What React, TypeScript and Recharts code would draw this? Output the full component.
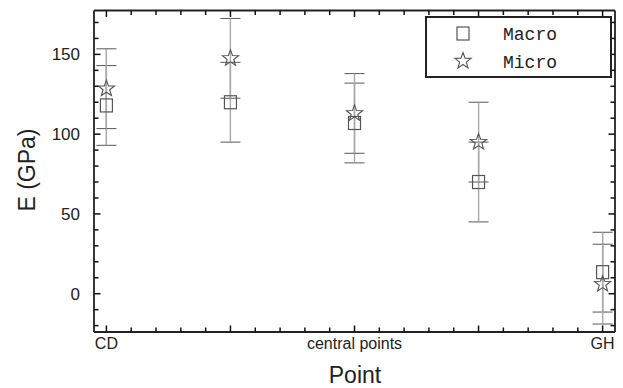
import React from 'react';
import { ScatterChart, Scatter, XAxis, YAxis, ErrorBar, Legend } from 'recharts';

const points = [1, 2, 3, 4, 5];
const xTickLabels: Record<number, string> = { 1: 'CD', 3: 'central points', 5: 'GH' };
const macroE = [118, 120, 107, 70, 13.5];
const microE = [128.5, 147.5, 113, 95, 6];
const macroErr = [25, 25, 25, 25, 25];
const microErr = [25, 25, 25, 25, 25];
const yTickLabels = [0, 50, 100, 150];

const xTicks: number[] = [];
for (let i = 0; i <= 20; i++) xTicks.push(Math.round((1 + i * 0.2) * 10) / 10);
const yTicks: number[] = [];
for (let v = -20; v <= 170; v += 10) yTicks.push(v);

const macroData = points.map((p, i) => ({ x: p, y: macroE[i], err: macroErr[i] }));
const microData = points.map((p, i) => ({ x: p, y: microE[i], err: microErr[i] }));

const INK = '#222';
const TICK = '#111';
const MARK = '#555';
const FONT = '"Liberation Sans", Arial, sans-serif';
const MONO = '"Liberation Mono", "Courier New", monospace';

const starPath = (cx: number, cy: number, R: number, r: number) => {
  let d = '';
  for (let i = 0; i < 10; i++) {
    const rad = i % 2 === 0 ? R : r;
    const a = -Math.PI / 2 + (i * Math.PI) / 5;
    d += (i === 0 ? 'M' : 'L') + (cx + rad * Math.cos(a)).toFixed(2) + ',' + (cy + rad * Math.sin(a)).toFixed(2);
  }
  return d + 'Z';
};

const SquareShape = (props: any) => {
  const { cx, cy } = props;
  return <rect x={cx - 6} y={cy - 6.5} width={12} height={13} fill="none" stroke={MARK} strokeWidth={1.2} />;
};
const StarShape = (props: any) => {
  const { cx, cy } = props;
  return <path d={starPath(cx, cy, 8.5, 3.5)} fill="none" stroke={MARK} strokeWidth={1.1} />;
};

const isMajorX = (v: number) => Math.abs(v - Math.round(v)) < 1e-6;
const isMajorY = (v: number) => v % 50 === 0;
const MINOR = 4.5;
const MAJOR = 6.5;

const BottomTick = (props: any) => {
  const { x, y, payload } = props;
  const v = payload.value;
  const major = isMajorX(v);
  const label = major ? xTickLabels[Math.round(v)] : undefined;
  return (
    <g>
      <line x1={x} y1={y} x2={x} y2={y - (major ? MAJOR : MINOR)} stroke={TICK} strokeWidth={1.5} />
      {label ? (
        <text x={x} y={y + 17} textAnchor="middle" fontSize={16} fill={INK} fontFamily={FONT}>{label}</text>
      ) : null}
    </g>
  );
};
const TopTick = (props: any) => {
  const { x, y, payload } = props;
  const major = isMajorX(payload.value);
  return <line x1={x} y1={y} x2={x} y2={y + (major ? MAJOR : MINOR)} stroke={TICK} strokeWidth={1.5} />;
};
const LeftTick = (props: any) => {
  const { x, y, payload } = props;
  const v = payload.value;
  const major = isMajorY(v);
  const showLabel = yTickLabels.indexOf(v) >= 0;
  return (
    <g>
      <line x1={x} y1={y} x2={x + (major ? MAJOR : MINOR)} y2={y} stroke={TICK} strokeWidth={1.5} />
      {showLabel ? (
        <text x={x - 14} y={y} dy="0.36em" textAnchor="end" fontSize={17} fill={INK} fontFamily={FONT}>{v}</text>
      ) : null}
    </g>
  );
};
const RightTick = (props: any) => {
  const { x, y, payload } = props;
  const major = isMajorY(payload.value);
  return <line x1={x} y1={y} x2={x - (major ? MAJOR : MINOR)} y2={y} stroke={TICK} strokeWidth={1.5} />;
};

const LegendBox = () => (
  <svg width={187} height={62} style={{ display: 'block' }}>
    <rect x={1} y={1} width={185} height={60} fill="#fff" stroke={INK} strokeWidth={2} />
    <rect x={32} y={11} width={12} height={13} fill="none" stroke={MARK} strokeWidth={1.2} />
    <path d={starPath(38, 45, 8.5, 3.5)} fill="none" stroke={MARK} strokeWidth={1.1} />
    <text x={78} y={18} dy="0.36em" fontSize={18} fontFamily={MONO} fill={INK}>Macro</text>
    <text x={78} y={46} dy="0.36em" fontSize={18} fontFamily={MONO} fill={INK}>Micro</text>
  </svg>
);

export default function App() {
  const xDomain: [number, number] = [0.9, 5.1];
  const yDomain: [number, number] = [-24, 177.5];
  return (
    <div style={{ position: 'absolute', left: 0, top: 0, width: 623, height: 388, background: '#fff', fontFamily: FONT, overflow: 'hidden' }}>
      <ScatterChart width={623} height={388} margin={{ top: 0, right: 0, bottom: 0, left: 0 }}>
        <XAxis xAxisId="bottom" type="number" dataKey="x" orientation="bottom" height={56} domain={xDomain} allowDataOverflow
          ticks={xTicks} interval={0} tickSize={0} tickMargin={0} tickLine={false} tick={<BottomTick />}
          axisLine={{ stroke: INK, strokeWidth: 1.8 }} />
        <XAxis xAxisId="top" type="number" dataKey="x" orientation="top" height={10.5} domain={xDomain} allowDataOverflow
          ticks={xTicks} interval={0} tickSize={0} tickMargin={0} tickLine={false} tick={<TopTick />}
          axisLine={{ stroke: INK, strokeWidth: 1.8 }} />
        <YAxis yAxisId="left" type="number" dataKey="y" orientation="left" width={94} domain={yDomain} allowDataOverflow
          ticks={yTicks} interval={0} tickSize={0} tickMargin={0} tickLine={false} tick={<LeftTick />}
          axisLine={{ stroke: INK, strokeWidth: 1.8 }} />
        <YAxis yAxisId="right" type="number" dataKey="y" orientation="right" width={8} domain={yDomain} allowDataOverflow
          ticks={yTicks} interval={0} tickSize={0} tickMargin={0} tickLine={false} tick={<RightTick />}
          axisLine={{ stroke: INK, strokeWidth: 1.8 }} />
        <Scatter name="Macro" data={macroData} xAxisId="bottom" yAxisId="left" shape={<SquareShape />} isAnimationActive={false}>
          <ErrorBar dataKey="err" direction="y" width={10} stroke="#666" strokeWidth={1.1} isAnimationActive={false} />
          <ErrorBar dataKey="err" direction="y" width={0} stroke="#aaa" strokeWidth={1.3} isAnimationActive={false} />
        </Scatter>
        <Scatter name="Micro" data={microData} xAxisId="bottom" yAxisId="left" shape={<StarShape />} isAnimationActive={false}>
          <ErrorBar dataKey="err" direction="y" width={10} stroke="#666" strokeWidth={1.1} isAnimationActive={false} />
          <ErrorBar dataKey="err" direction="y" width={0} stroke="#aaa" strokeWidth={1.3} isAnimationActive={false} />
        </Scatter>
        <Legend layout="vertical" align="center" verticalAlign="middle" content={() => <LegendBox />}
          wrapperStyle={{ position: 'absolute', left: 425, top: 16, width: 187, height: 62 }} />
      </ScatterChart>
      <div style={{ position: 'absolute', left: 355, top: 363, transform: 'translateX(-50%)', fontSize: 23, color: INK, lineHeight: '24px', whiteSpace: 'nowrap' }}>
        Point
      </div>
      <div style={{ position: 'absolute', left: 27, top: 170, transform: 'translate(-50%, -50%) rotate(-90deg)', fontSize: 23, color: INK, lineHeight: 1, whiteSpace: 'nowrap' }}>
        E (GPa)
      </div>
    </div>
  );
}
